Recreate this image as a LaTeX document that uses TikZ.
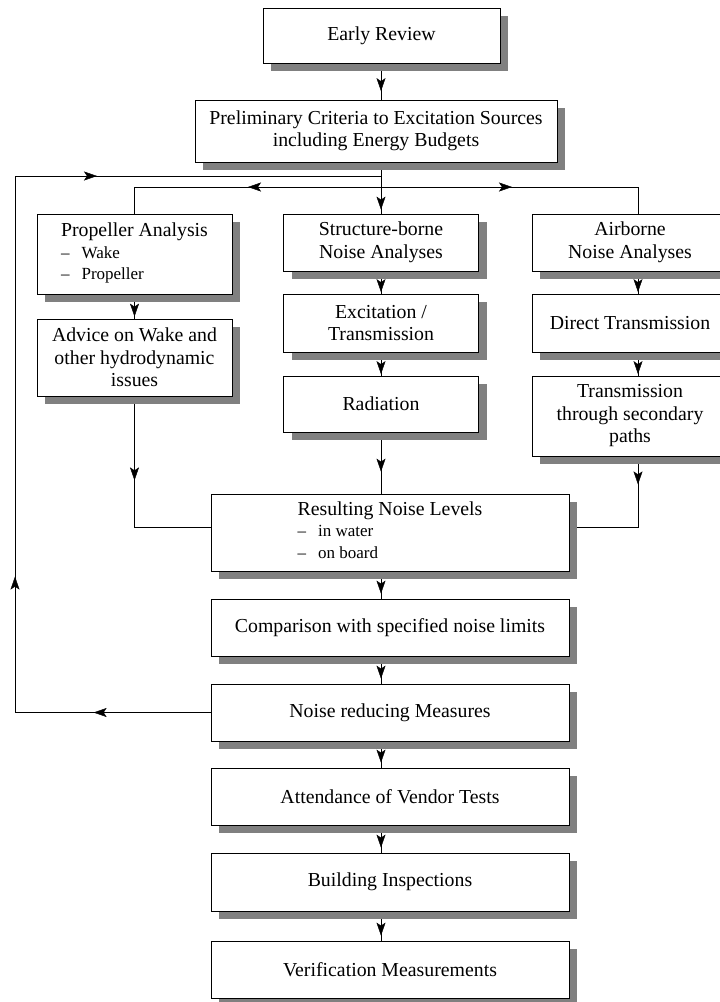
\documentclass[tikz,border=0pt]{standalone}
\usepackage{fontspec}
\setmainfont{Liberation Serif}
\usetikzlibrary{arrows.meta,shadows,decorations.markings,backgrounds}
\definecolor{shadowgray}{RGB}{128,128,128}
\newcommand{\boxlist}[3]{{\renewcommand{\arraystretch}{0.96}\begin{tabular}{@{}l@{}}#1\\{\fontsize{17}{20}\selectfont\textendash\hspace{12pt}#2}\\{\fontsize{17}{20}\selectfont\textendash\hspace{12pt}#3}\end{tabular}}}
\tikzset{myarr/.tip={Stealth[length=13pt,width=9pt,inset=3pt]}}
\begin{document}
\begin{tikzpicture}[x=1pt,y=-1pt,
  box/.style={draw, line width=0.8pt, fill=white, inner sep=0pt, align=center,
    font=\fontsize{19.8}{22.5}\selectfont,
    drop shadow={shadow xshift=8pt, shadow yshift=-8pt, fill=shadowgray, opacity=1, draw=none}},
  arrowat/.style={postaction={decorate, decoration={markings, mark=at position #1 with {\arrow{myarr}}}}},
  conn/.style={line width=1.1pt}]
\useasboundingbox (0,0) rectangle (720,1002);
\clip (0,0) rectangle (720,1002);

% top
\node[box, minimum width=237pt, minimum height=55pt] (early) at (381.5,35.5) {Early Review};
\node[box, minimum width=362pt, minimum height=62pt] (prelim) at (376,131) {Preliminary Criteria to Excitation Sources\\including Energy Budgets};

% left column
\node[box, minimum width=195pt, minimum height=80pt] (prop) at (134.5,254) {\boxlist{Propeller Analysis}{Wake}{Propeller}};
\node[box, minimum width=195pt, minimum height=77pt] (advice) at (134.5,357.5) {Advice on Wake and\\other hydrodynamic\\issues};

% middle column
\node[box, minimum width=195pt, minimum height=57pt] (struct) at (381,242.5) {Structure-borne\\Noise Analyses};
\node[box, minimum width=195pt, minimum height=58pt] (excit) at (381,323) {Excitation /\\Transmission};
\node[box, minimum width=195pt, minimum height=56pt] (radiation) at (381,404) {Radiation};

% right column
\node[box, minimum width=196pt, minimum height=57pt] (air) at (630,242.5) {Airborne\\Noise Analyses};
\node[box, minimum width=196pt, minimum height=58pt] (direct) at (630,323) {Direct Transmission};
\node[box, minimum width=196pt, minimum height=80pt] (trans) at (630,416) {Transmission\\through secondary\\paths};

% main column
\node[box, minimum width=358pt, minimum height=77pt] (result) at (390,532.5) {\boxlist{Resulting Noise Levels}{in water}{on board}};
\node[box, minimum width=358pt, minimum height=57pt] (compare) at (390,627.5) {Comparison with specified noise limits};
\node[box, minimum width=358pt, minimum height=57pt] (noise) at (390,712.5) {Noise reducing Measures};
\node[box, minimum width=358pt, minimum height=57pt] (attend) at (390,796.5) {Attendance of Vendor Tests};
\node[box, minimum width=358pt, minimum height=58pt] (build) at (390,882) {Building Inspections};
\node[box, minimum width=358pt, minimum height=57pt] (verify) at (390,969.5) {Verification Measurements};

\begin{scope}[on background layer, conn]
\coordinate (sp) at (381,0);
\coordinate (br) at (381,187);
\coordinate (jl) at (134.5,527);
\coordinate (jr) at (638,527);
\coordinate (fb1) at (15,712.5);
\coordinate (fb2) at (15,176);
\coordinate (fb3) at (381,176);

\draw[arrowat=-8.5pt] (early.south -| sp) -- (prelim.north -| sp);
\draw[arrowat=-4pt] (prelim.south -| sp) -- (struct.north);
\draw[arrowat=133pt] (br) -| (prop.north);
\draw[arrowat=131pt] (br) -| ([xshift=8pt]air.north);

\draw[arrowat=-2pt] (prop.south) -- (advice.north);
\draw[arrowat=-1.5pt] (struct.south) -- (excit.north);
\draw[arrowat=-1.5pt] (excit.south) -- (radiation.north);
\draw[arrowat=-1.5pt] ([xshift=8pt]air.south) -- ([xshift=8pt]direct.north);
\draw[arrowat=-1.5pt] ([xshift=8pt]direct.south) -- ([xshift=8pt]trans.north);

\draw[arrowat=-22pt] (radiation.south) -- (result.north -| sp);
\draw[arrowat=84pt] (advice.south) -- (jl) -- (jl -| result.west);
\draw[arrowat=28pt] ([xshift=8pt]trans.south) -- (jr) -- (jr -| result.east);

\draw[arrowat=-5pt] (result.south -| sp) -- (compare.north -| sp);
\draw[arrowat=-5pt] (compare.south -| sp) -- (noise.north -| sp);
\draw[arrowat=-5pt] (noise.south -| sp) -- (attend.north -| sp);
\draw[arrowat=-5pt] (attend.south -| sp) -- (build.north -| sp);
\draw[arrowat=-5pt] (build.south -| sp) -- (verify.north -| sp);

\draw[arrowat=117pt, arrowat=331.5pt, arrowat=-284pt] (noise.west) -- (fb1) -- (fb2) -- (fb3);
\end{scope}
\end{tikzpicture}
\end{document}
